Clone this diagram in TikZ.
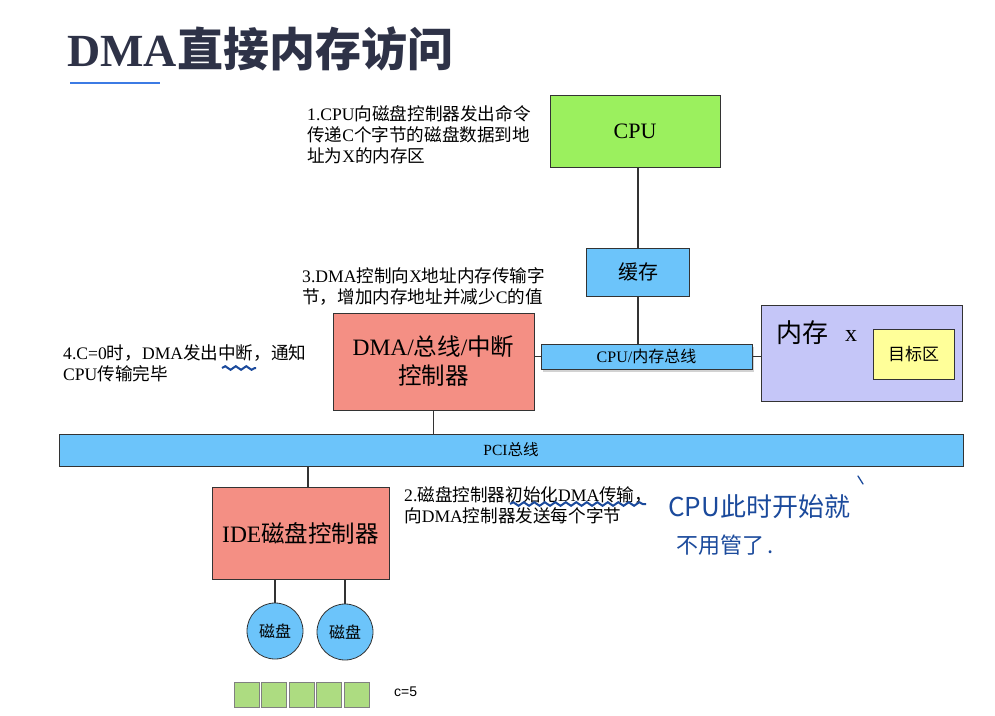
\documentclass[tikz,border=0pt]{standalone}
\usepackage{fontspec}
\setmainfont{Liberation Serif}
\newfontfamily\cjk{Noto Sans CJK SC}
\newfontfamily\latsans{Liberation Sans}
\usetikzlibrary{calc,shadows,decorations.pathmorphing}

\definecolor{titleink}{HTML}{2E3247}
\definecolor{titleblue}{HTML}{3C7BE4}
\definecolor{cpugreen}{HTML}{9BF05E}
\definecolor{busblue}{HTML}{6CC4FA}
\definecolor{salmon}{HTML}{F48F84}
\definecolor{lavender}{HTML}{C5C6F8}
\definecolor{targetyellow}{HTML}{FFFF99}
\definecolor{cellgreen}{HTML}{ADDC81}
\definecolor{edgegray}{HTML}{333333}
\definecolor{handblue}{HTML}{1B4A9C}

% CJK runs are switched to the CJK family explicitly
\newcommand\zh[1]{{\cjk #1}}

\begin{document}
\begin{tikzpicture}[x=1pt,y=-1pt,
  box/.style={draw=edgegray, line width=0.8pt, inner sep=0pt, align=center},
  wire/.style={draw=edgegray, line width=1.1pt},
  note/.style={anchor=base west, inner sep=0pt, align=left, text=black,
               font=\fontsize{17.6}{21}\selectfont},
  wavy/.style={draw=handblue, line width=2pt, decorate,
               decoration={snake, amplitude=1.8pt, segment length=10.5pt}},
  cell/.style={draw=gray, line width=0.6pt, fill=cellgreen, minimum size=25pt, inner sep=0pt},
  disk/.style={box, circle, fill=busblue, minimum size=56pt,
               font=\fontsize{16}{18}\selectfont\cjk}]
\useasboundingbox (0,0) rectangle (995,715);
\fill[white] (0,0) rectangle (995,715);

% heading
\node[anchor=base west, inner sep=0pt, text=titleink,
      font=\fontsize{46}{52}\selectfont\bfseries] (title) at (67,66) {DMA\zh{直接内存访问}};
\draw[titleblue, line width=2pt] (70,83) -- (160,83);

% CPU side
\node[box, fill=cpugreen, minimum width=170pt, minimum height=72pt,
      font=\fontsize{22}{26}\selectfont] (cpu) at (635,131) {CPU};
\node[box, fill=busblue, minimum width=103pt, minimum height=48pt,
      font=\fontsize{20}{24}\selectfont] (cache) at (638,272) {\zh{缓存}};
\node[box, fill=busblue, minimum width=211pt, minimum height=25pt,
      drop shadow={shadow xshift=2pt, shadow yshift=-2.5pt, opacity=0.35},
      font=\fontsize{16}{18}\selectfont] (bus) at (646.5,356.5) {CPU/\zh{内存总线}};

% memory
\node[box, fill=lavender, minimum width=201pt, minimum height=96pt] (mem) at (861.5,353) {};
\node[anchor=base west, inner sep=0pt, font=\fontsize{26}{30}\selectfont\cjk] (memlabel) at (776,342) {内存};
\node[anchor=base west, inner sep=0pt, font=\fontsize{24}{28}\selectfont] (memx) at (845,341) {x};
\node[box, fill=targetyellow, minimum width=81pt, minimum height=50pt,
      font=\fontsize{17}{20}\selectfont\cjk] (target) at (913.5,354) {目标区};

% controllers and PCI bus
\node[box, fill=salmon, minimum width=201pt, minimum height=97pt,
      font=\fontsize{23.5}{29}\selectfont] (dma) at (433.5,361.5) {DMA/\zh{总线}/\zh{中断}\\\zh{控制器}};
\node[box, fill=busblue, minimum width=904pt, minimum height=32pt,
      font=\fontsize{15.5}{18}\selectfont] (pci) at (511,450) {PCI\zh{总线}};
\node[box, fill=salmon, minimum width=177pt, minimum height=92pt,
      font=\fontsize{23.5}{28}\selectfont] (ide) at (300.5,533) {IDE\zh{磁盘控制器}};

% disks
\node[disk] (disk1) at (275,631) {磁盘};
\node[disk] (disk2) at (345,632) {磁盘};

% byte cells, count C
\foreach \i in {0,...,4} {
  \node[cell] (cell\i) at (246.5+27.5*\i,695) {};
}
\node[anchor=west, inner sep=0pt, font=\fontsize{14}{16}\selectfont\latsans] (count) at (394,692) {c=5};

% connections
\draw[wire] (cpu.south -| cache.north) -- (cache.north);
\draw[wire] (cache.south) -- (cache.south |- bus.north);
\draw[wire] (dma.east |- bus.west) -- (bus.west);
\draw[wire] (bus.east) -- (bus.east -| mem.west);
\draw[wire] (dma.south) -- (dma.south |- pci.north);
\coordinate (idetap) at ($(ide.north)+(7.5,0)$);
\draw[wire] (idetap) -- (idetap |- pci.south);
\draw[wire] (disk1.north) -- (disk1.north |- ide.south);
\draw[wire] (disk2.north) -- (disk2.north |- ide.south);

% numbered steps (anchored at the baseline of the last line)
\node[note] (step1) at (307,162)
  {1.CPU\zh{向磁盘控制器发出命令}\\\zh{传递}C\zh{个字节的磁盘数据到地}\\\zh{址为}X\zh{的内存区}};
\node[note] (step3) at (302,303)
  {3.DMA\zh{控制向}X\zh{地址内存传输字}\\\zh{节，增加内存地址并减少}C\zh{的值}};
\node[note] (step4) at (63,380)
  {4.C=0\zh{时，}DMA\zh{发出中断，通知}\\CPU\zh{传输完毕}};
\node[note] (step2) at (404,522)
  {2.\zh{磁盘控制器初始化}DMA\zh{传输，}\\\zh{向}DMA\zh{控制器发送每个字节}};

% pen marks
\draw[wavy] (222,368) -- (256,368);
\draw[wavy] (510,504) -- (646,504);
\node[anchor=base west, inner sep=0pt, text=handblue, font=\fontsize{26}{28}\selectfont\cjk] (pen1) at (668,516) {CPU此时开始就};
\node[anchor=base west, inner sep=0pt, text=handblue, font=\fontsize{22}{26}\selectfont\cjk] (pen2) at (676,553) {不用管了\,.};
\draw[handblue, line width=1.3pt, line cap=round] (858,476) -- (863,484);

\end{tikzpicture}
\end{document}
